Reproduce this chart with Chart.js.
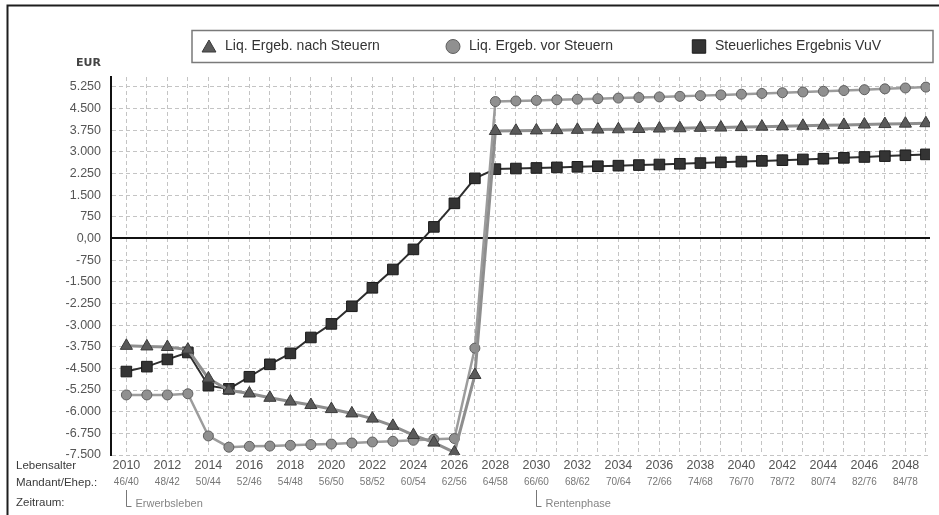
<!DOCTYPE html>
<html>
<head>
<meta charset="utf-8">
<script src="https://cdn.jsdelivr.net/npm/chart.js@4.4.1/dist/chart.umd.min.js"></script>
<style>
  html, body { margin: 0; padding: 0; background: #fff; }
  #wrap { width: 939px; height: 515px; }
</style>
</head>
<body>
<div id="wrap"><canvas id="c" width="939" height="515"></canvas></div>
<script>
// Jahre der Prognose
const years = [2010, 2011, 2012, 2013, 2014, 2015, 2016, 2017, 2018, 2019,
               2020, 2021, 2022, 2023, 2024, 2025, 2026, 2027, 2028, 2029,
               2030, 2031, 2032, 2033, 2034, 2035, 2036, 2037, 2038, 2039,
               2040, 2041, 2042, 2043, 2044, 2045, 2046, 2047, 2048, 2049];

// Liquides Ergebnis nach Steuern (EUR)
const liqNachSteuern = [-3720, -3740, -3760, -3850, -4850, -5260, -5370, -5520, -5650, -5770,
                        -5910, -6060, -6240, -6490, -6810, -7070, -7410, -4730, 3720, 3730,
                        3740, 3750, 3760, 3770, 3780, 3790, 3805, 3815, 3830, 3840,
                        3855, 3870, 3885, 3900, 3915, 3930, 3945, 3960, 3975, 3990];

// Liquides Ergebnis vor Steuern (EUR)
const liqVorSteuern = [-5420, -5420, -5420, -5380, -6840, -7230, -7200, -7190, -7165, -7140,
                       -7120, -7085, -7050, -7025, -6990, -6955, -6930, -3800, 4740, 4760,
                       4780, 4800, 4820, 4840, 4860, 4880, 4900, 4920, 4945, 4970,
                       4995, 5020, 5045, 5070, 5095, 5120, 5150, 5180, 5210, 5240];

// Steuerliches Ergebnis aus Vermietung und Verpachtung (EUR)
const steuerErgebnis = [-4610, -4440, -4190, -3950, -5100, -5210, -4790, -4360, -3980, -3430,
                        -2960, -2350, -1710, -1075, -380, 400, 1215, 2080, 2400, 2420,
                        2440, 2460, 2480, 2500, 2520, 2540, 2560, 2585, 2610, 2635,
                        2660, 2685, 2710, 2735, 2760, 2790, 2820, 2850, 2880, 2910];

// Beschriftete Jahre und Lebensalter Mandant/Ehepartner
const labelYears = [2010, 2012, 2014, 2016, 2018, 2020, 2022, 2024, 2026, 2028,
                    2030, 2032, 2034, 2036, 2038, 2040, 2042, 2044, 2046, 2048];
const ageLabels = ['46/40', '48/42', '50/44', '52/46', '54/48', '56/50', '58/52', '60/54', '62/56', '64/58',
                   '66/60', '68/62', '70/64', '72/66', '74/68', '76/70', '78/72', '80/74', '82/76', '84/78'];

// Werte der y-Achse
const yTickValues = [5250, 4500, 3750, 3000, 2250, 1500, 750, 0, -750, -1500, -2250,
                     -3000, -3750, -4500, -5250, -6000, -6750, -7500];

// Lebensphasen
const phaseYears = [2010, 2030];
const phaseNames = ['Erwerbsleben', 'Rentenphase'];

const rowCaptions = ['Lebensalter', 'Mandant/Ehep.:', 'Zeitraum:'];
const seriesNames = ['Liq. Ergeb. nach Steuern', 'Liq. Ergeb. vor Steuern', 'Steuerliches Ergebnis VuV'];

const FONT = '"Liberation Sans", Arial, sans-serif';
Chart.defaults.font.family = FONT;

function deNumber(v) {
  if (v === 0) return '0,00';
  const s = Math.abs(v).toString().replace(/\B(?=(\d{3})+(?!\d))/g, '.');
  return (v < 0 ? '-' : '') + s;
}

function pairs(values) {
  return values.map((v, i) => ({ x: years[i], y: v }));
}

function drawMark(ctx, style, x, y, r) {
  ctx.beginPath();
  if (style === 'triangle') {
    ctx.moveTo(x, y - r);
    ctx.lineTo(x + r * 0.866, y + r * 0.5);
    ctx.lineTo(x - r * 0.866, y + r * 0.5);
    ctx.closePath();
  } else if (style === 'rect') {
    const h = r * Math.SQRT1_2;
    ctx.rect(x - h, y - h, 2 * h, 2 * h);
  } else {
    ctx.arc(x, y, r, 0, Math.PI * 2);
  }
  ctx.fill();
  ctx.stroke();
}

const gridColor = '#c4c4c4';
const gridDash = [4, 3];

const decorations = {
  id: 'decorations',
  beforeDraw(chart) {
    const ctx = chart.ctx;
    ctx.save();
    ctx.fillStyle = '#fff';
    ctx.fillRect(0, 0, chart.width, chart.height);
    // Rahmen
    ctx.strokeStyle = '#1e1e1e';
    ctx.lineWidth = 2;
    ctx.beginPath();
    ctx.moveTo(7.5, chart.height);
    ctx.lineTo(7.5, 5.5);
    ctx.lineTo(chart.width, 5.5);
    ctx.stroke();
    ctx.restore();
  },
  beforeDatasetsDraw(chart) {
    // Nulllinie
    const ctx = chart.ctx, a = chart.chartArea;
    const y0 = Math.round(chart.scales.y.getPixelForValue(0));
    ctx.save();
    ctx.strokeStyle = '#111';
    ctx.lineWidth = 2;
    ctx.beginPath();
    ctx.moveTo(a.left, y0);
    ctx.lineTo(a.right, y0);
    ctx.stroke();
    ctx.restore();
  },
  afterDraw(chart) {
    const ctx = chart.ctx;
    ctx.save();

    // Legende
    ctx.strokeStyle = '#7a7a7a';
    ctx.lineWidth = 1.5;
    ctx.strokeRect(192, 30.5, 741, 32);
    const slots = [{ cx: 209, tx: 225, r: 8 }, { cx: 453, tx: 469, r: 7 }, { cx: 699, tx: 715, r: 9.5 }];
    chart.data.datasets.forEach((ds, i) => {
      const s = slots[i];
      ctx.fillStyle = ds.pointBackgroundColor;
      ctx.strokeStyle = ds.pointBorderColor;
      ctx.lineWidth = 1;
      drawMark(ctx, ds.pointStyle, s.cx, ds.pointStyle === 'triangle' ? 48 : 46.5, s.r);
      ctx.fillStyle = '#333';
      ctx.font = '14px ' + FONT;
      ctx.textBaseline = 'middle';
      ctx.textAlign = 'left';
      ctx.fillText(ds.label, s.tx, 46.5);
    });

    // Einheit
    ctx.fillStyle = '#444';
    ctx.font = 'bold 11px "DejaVu Sans", sans-serif';
    ctx.textAlign = 'right';
    ctx.textBaseline = 'middle';
    ctx.fillText('EUR', 101, 63);

    // Zeilenbeschriftungen unter der x-Achse
    ctx.textAlign = 'left';
    ctx.fillStyle = '#3a3a3a';
    ctx.font = '11.5px ' + FONT;
    const rowY = [466, 482.5, 503];
    rowCaptions.forEach((t, i) => ctx.fillText(t, 16, rowY[i]));

    // Lebensphasen
    const xs = chart.scales.x;
    ctx.strokeStyle = '#777';
    ctx.lineWidth = 1;
    ctx.fillStyle = '#858585';
    ctx.font = '11px ' + FONT;
    phaseYears.forEach((yr, i) => {
      const px = Math.round(xs.getPixelForValue(yr)) + 0.5;
      ctx.beginPath();
      ctx.moveTo(px, 490);
      ctx.lineTo(px, 506.5);
      ctx.lineTo(px + 5, 506.5);
      ctx.stroke();
      ctx.fillText(phaseNames[i], px + 9, 504);
    });
    ctx.restore();
  }
};

new Chart(document.getElementById('c'), {
  type: 'line',
  data: {
    datasets: [
      {
        label: seriesNames[0],
        data: pairs(liqNachSteuern),
        borderColor: '#8e8e8e',
        borderWidth: 3,
        pointStyle: 'triangle',
        pointRadius: 7,
        pointBackgroundColor: '#5a5a5a',
        pointBorderColor: '#3a3a3a',
        pointBorderWidth: 1
      },
      {
        label: seriesNames[1],
        data: pairs(liqVorSteuern),
        borderColor: '#9c9c9c',
        borderWidth: 2.5,
        pointStyle: 'circle',
        pointRadius: 5,
        pointBackgroundColor: '#909090',
        pointBorderColor: '#606060',
        pointBorderWidth: 1
      },
      {
        label: seriesNames[2],
        data: pairs(steuerErgebnis),
        borderColor: '#2e2e2e',
        borderWidth: 2,
        pointStyle: 'rect',
        pointRadius: 7.5,
        pointBackgroundColor: '#343434',
        pointBorderColor: '#1a1a1a',
        pointBorderWidth: 1
      }
    ]
  },
  options: {
    responsive: false,
    animation: false,
    layout: { padding: { left: 0, top: 77, right: 9, bottom: 26 } },
    elements: { line: { tension: 0 } },
    plugins: {
      legend: { display: false },
      tooltip: { enabled: false }
    },
    scales: {
      x: {
        type: 'linear',
        position: 'bottom',
        weight: 0,
        min: 2009.25,
        max: 2049.2,
        afterBuildTicks: s => { s.ticks = years.map(v => ({ value: v })); },
        afterFit: s => { s.height = 20; },
        ticks: {
          autoSkip: false,
          maxRotation: 0,
          padding: 3,
          color: '#555',
          font: { size: 12.5 },
          callback: v => labelYears.includes(v) ? String(v) : ''
        },
        grid: { color: gridColor, lineWidth: 1, drawTicks: false },
        border: { display: false, dash: gridDash }
      },
      x2: {
        type: 'linear',
        position: 'bottom',
        weight: 1,
        min: 2009.25,
        max: 2049.2,
        afterBuildTicks: s => { s.ticks = years.map(v => ({ value: v })); },
        afterFit: s => { s.height = 14; },
        ticks: {
          autoSkip: false,
          maxRotation: 0,
          padding: 1,
          color: '#777',
          font: { size: 10 },
          callback: v => { const i = labelYears.indexOf(v); return i >= 0 ? ageLabels[i] : ''; }
        },
        grid: { display: false, drawTicks: false },
        border: { display: false }
      },
      y: {
        min: -7500,
        max: 5590,
        afterBuildTicks: s => { s.ticks = yTickValues.map(v => ({ value: v })); },
        afterFit: s => { s.width = 111; },
        ticks: {
          padding: 10,
          color: '#555',
          font: { size: 12.5 },
          callback: v => deNumber(v)
        },
        grid: { color: gridColor, lineWidth: 1, drawTicks: false },
        border: { display: true, color: '#111', width: 2, dash: gridDash }
      }
    }
  },
  plugins: [decorations]
});
</script>
</body>
</html>
